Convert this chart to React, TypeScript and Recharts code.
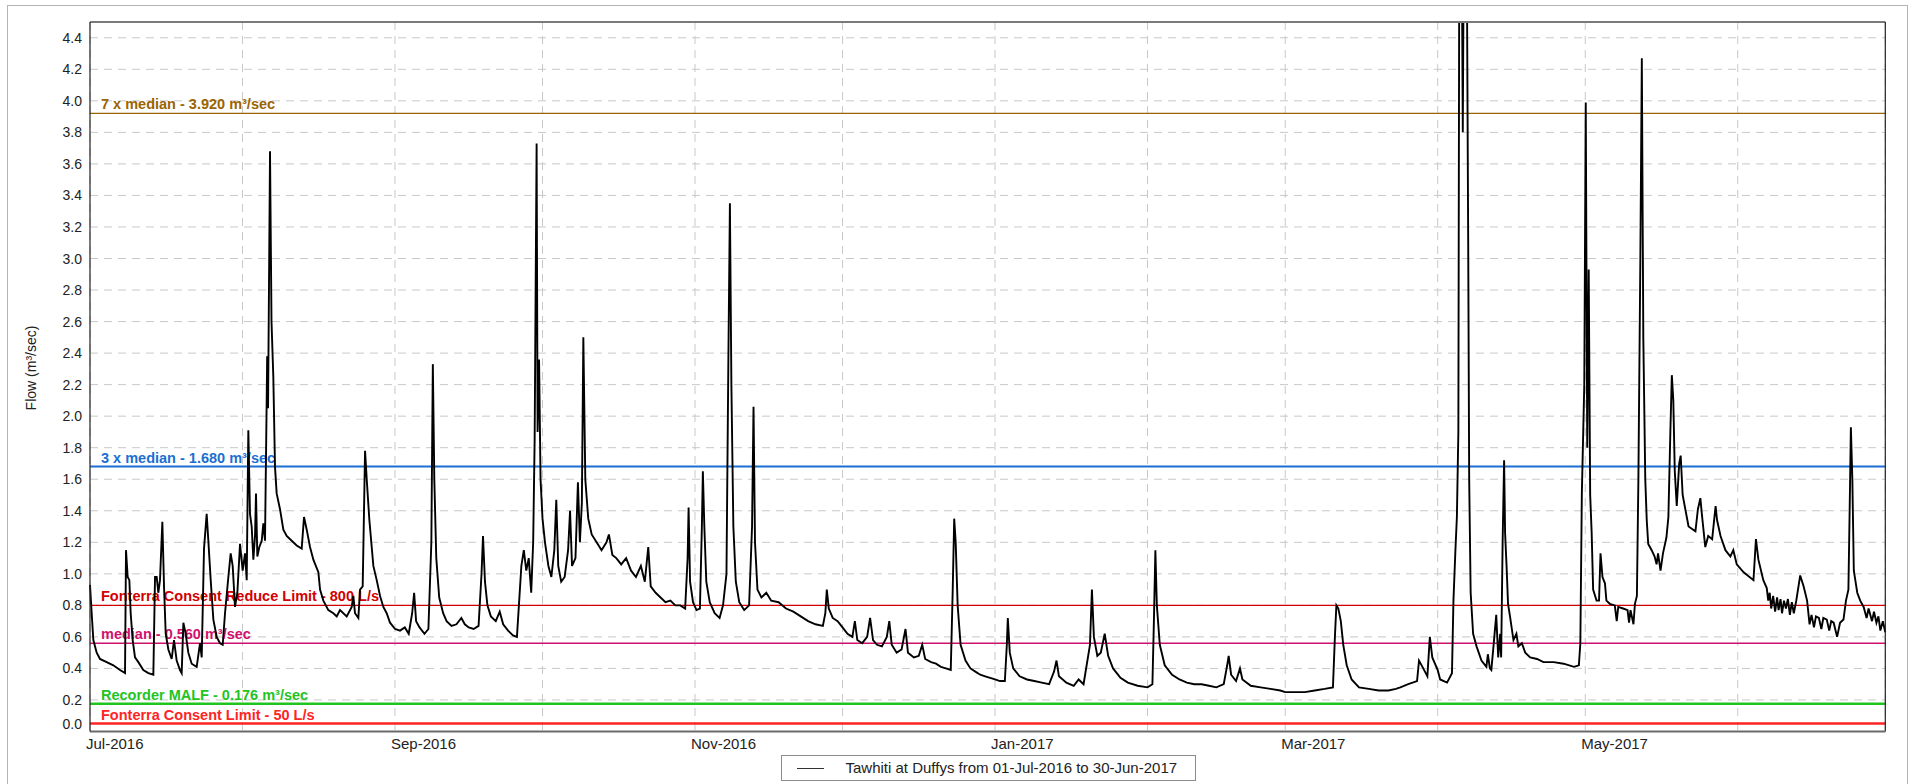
import { LineChart, Line, XAxis, YAxis, CartesianGrid, ReferenceLine, Legend } from "recharts";

// Tawhiti at Duffys flow record, [day since 01-Jul-2016, flow m³/sec]
const julFlow: [number, number][] = [
  [0, 0.93], [0.34, 0.75], [0.68, 0.58], [1.36, 0.5], [2.03, 0.46], [3.39, 0.44], [4.74, 0.42], [6.1, 0.39],
  [7.12, 0.37], [7.32, 1.15], [7.66, 0.98], [8.0, 0.96], [8.27, 0.75], [8.68, 0.58], [9.15, 0.47], [9.83, 0.44],
  [10.84, 0.39], [11.86, 0.37], [12.88, 0.36], [13.22, 0.98], [13.56, 0.98], [13.89, 0.88], [14.23, 0.96],
  [14.71, 1.33], [15.05, 0.92], [15.39, 0.62], [15.93, 0.52], [16.61, 0.46], [17.08, 0.58], [17.62, 0.45],
  [18.3, 0.39], [18.64, 0.37], [18.98, 0.69], [19.45, 0.62], [19.99, 0.5], [20.67, 0.43], [21.69, 0.41],
  [22.37, 0.56], [22.71, 0.47], [23.18, 1.16], [23.72, 1.38], [24.06, 1.21], [24.54, 0.96], [25.08, 0.71],
  [25.76, 0.6], [26.43, 0.56], [26.98, 0.55], [27.45, 0.75], [28.13, 0.98], [28.6, 1.13], [29.01, 1.05],
  [29.48, 0.79], [29.96, 0.88], [30.5, 1.19], [31.04, 1.02],
];
const augFlow: [number, number][] = [
  [31.52, 1.13], [31.86, 0.96], [32.19, 1.91], [32.53, 1.38], [32.87, 1.3], [33.21, 1.09], [33.55, 1.24],
  [33.75, 1.51], [34.02, 1.11], [34.43, 1.17], [34.91, 1.21], [35.24, 1.32], [35.58, 1.21], [35.92, 2.1],
  [36.02, 2.38], [36.2, 2.05], [36.6, 3.68], [36.9, 2.6], [37.27, 2.25], [37.61, 1.68], [37.95, 1.51],
  [38.63, 1.41], [39.31, 1.28], [39.99, 1.24], [41.01, 1.21], [42.02, 1.18], [43.04, 1.16], [43.51, 1.36],
  [44.06, 1.28], [44.73, 1.17], [45.41, 1.09], [46.43, 1.01], [46.77, 0.9], [47.44, 0.83], [48.46, 0.77],
  [49.48, 0.75], [50.16, 0.73], [50.83, 0.77], [52.19, 0.73], [53.21, 0.79], [53.54, 0.86], [53.88, 0.75],
  [54.56, 0.72], [54.9, 0.9], [55.44, 0.92], [55.92, 1.78], [56.26, 1.6], [56.8, 1.34], [57.61, 1.05],
  [58.29, 0.96], [58.97, 0.86], [59.64, 0.79], [60.32, 0.75], [61.0, 0.69],
];
const sepFlow: [number, number][] = [
  [62.02, 0.65], [63.03, 0.64], [64.0, 0.66], [64.8, 0.62], [65.5, 0.75], [65.9, 0.88], [66.3, 0.7],
  [67.0, 0.66], [68.0, 0.62], [68.8, 0.65], [69.4, 1.2], [69.7, 2.33], [70.0, 1.6], [70.4, 1.1], [71.0, 0.85],
  [71.8, 0.75], [72.5, 0.7], [73.5, 0.67], [74.5, 0.68], [75.5, 0.72], [76.2, 0.68], [77.0, 0.66],
  [78.0, 0.65], [79.0, 0.67], [79.6, 1.0], [79.9, 1.24], [80.3, 0.95], [80.8, 0.8], [81.5, 0.73],
  [82.5, 0.7], [83.3, 0.76], [84.0, 0.68], [85.0, 0.64], [86.0, 0.61], [86.8, 0.6], [87.3, 0.85],
  [87.7, 1.05], [88.2, 1.15], [88.7, 1.02], [89.2, 1.1], [89.7, 0.88], [90.1, 1.2], [90.4, 1.85],
  [90.8, 3.73], [91.0, 1.9], [91.3, 2.36], [91.6, 1.6], [92.0, 1.35],
];
const octFlow: [number, number][] = [
  [92.5, 1.2], [93.2, 1.05], [93.8, 0.98], [94.4, 1.15], [94.8, 1.47], [95.2, 1.05], [95.8, 0.95],
  [96.5, 0.98], [97.2, 1.15], [97.6, 1.4], [98.0, 1.05], [98.7, 1.1], [99.2, 1.58], [99.6, 1.2], [100.0, 1.45],
  [100.3, 2.5], [100.7, 1.6], [101.3, 1.35], [102, 1.25], [103, 1.2], [104, 1.15], [105, 1.2], [105.5, 1.25],
  [106.2, 1.12], [107, 1.1], [108, 1.06], [109, 1.1], [110, 1.02], [111, 0.98], [112, 1.05], [112.8, 0.95],
  [113.5, 1.17], [114, 0.92], [115, 0.88], [116, 0.85], [117, 0.82], [118, 0.83], [119, 0.8], [120, 0.8],
  [121, 0.78], [121.5, 1.1], [121.7, 1.42], [122, 0.95], [122.6, 0.82],
];
const novFlow: [number, number][] = [
  [123.3, 0.77], [124, 0.78], [124.4, 1.3], [124.6, 1.65], [124.9, 1.3], [125.3, 0.95], [126, 0.82],
  [127, 0.75], [128, 0.72], [128.7, 0.8], [129.4, 1.0], [129.8, 2.4], [130.1, 3.35], [130.4, 2.2],
  [130.8, 1.3], [131.3, 0.95], [132, 0.82], [133, 0.77], [134, 0.8], [134.6, 1.3], [134.9, 2.06],
  [135.2, 1.2], [135.7, 0.9], [136.5, 0.85], [137.5, 0.88], [138.5, 0.83], [140, 0.82], [141.5, 0.78],
  [143, 0.76], [144.5, 0.73], [146, 0.7], [147.5, 0.68], [149, 0.67], [149.5, 0.75], [149.8, 0.9],
  [150.2, 0.78], [151, 0.72], [152, 0.7], [153, 0.66],
];
const decFlow: [number, number][] = [
  [154, 0.62], [155, 0.6], [155.5, 0.7], [156, 0.58], [157, 0.56], [158, 0.6], [158.6, 0.72], [159.2, 0.58],
  [160, 0.55], [161, 0.54], [162, 0.6], [162.5, 0.7], [163, 0.55], [164, 0.5], [165, 0.52], [165.8, 0.65],
  [166.3, 0.5], [167.5, 0.47], [168.5, 0.48], [169.2, 0.55], [169.8, 0.46], [171, 0.44], [172, 0.43],
  [173, 0.41], [174, 0.4], [175, 0.39], [175.4, 0.9], [175.7, 1.35], [176.0, 1.2], [176.4, 0.8], [177, 0.55],
  [178, 0.45], [179, 0.4], [180, 0.38], [181, 0.36], [182, 0.35], [183, 0.34], [184, 0.33],
];
const janFlow: [number, number][] = [
  [185, 0.32], [186, 0.32], [186.4, 0.55], [186.6, 0.72], [187, 0.5], [187.7, 0.4], [189, 0.35],
  [190.5, 0.33], [192, 0.32], [193.5, 0.31], [195, 0.3], [196, 0.38], [196.5, 0.45], [197, 0.35],
  [198.5, 0.31], [200, 0.29], [201, 0.33], [202, 0.3], [203.3, 0.55], [203.7, 0.9], [204.1, 0.6],
  [204.8, 0.48], [205.5, 0.5], [206.3, 0.62], [207, 0.48], [208, 0.4], [209.5, 0.34], [211, 0.31],
  [213, 0.29], [215, 0.28],
];
const febFlow: [number, number][] = [
  [216, 0.3], [216.3, 0.7], [216.6, 1.15], [216.9, 0.8], [217.5, 0.55], [218.5, 0.42], [220, 0.36],
  [221.5, 0.33], [223, 0.31], [224.5, 0.3], [226, 0.3], [227.5, 0.29], [229, 0.28], [230.5, 0.3],
  [231.2, 0.42], [231.5, 0.48], [232, 0.36], [233, 0.32], [233.8, 0.4], [234.3, 0.33], [236, 0.29],
  [238, 0.28], [240, 0.27], [242, 0.26], [243, 0.25],
];
const marFlow: [number, number][] = [
  [245, 0.25], [247, 0.25], [249, 0.26], [251, 0.27], [252.7, 0.28], [253.1, 0.6], [253.4, 0.8],
  [253.8, 0.78], [254.3, 0.7], [254.8, 0.55], [255.5, 0.42], [256.5, 0.33], [258, 0.28], [260, 0.27],
  [262, 0.26], [264, 0.26], [265.5, 0.27], [266.4, 0.28], [268, 0.3], [269.8, 0.32], [270.2, 0.45],
  [270.9, 0.41], [271.9, 0.35], [272.4, 0.6], [272.9, 0.47], [274, 0.39],
];
const aprFlow: [number, number][] = [
  [274.5, 0.33], [275.9, 0.31], [276.9, 0.37], [277.2, 0.83], [277.6, 1.15], [277.9, 1.36], [278.2, 1.9],
  [278.4, 5.2], [278.8, 5.5], [279.1, 3.8], [279.3, 5.0], [279.9, 5.0], [280.2, 3.1], [280.4, 1.6],
  [280.7, 0.88], [281.2, 0.62], [281.9, 0.54], [282.9, 0.45], [283.9, 0.41], [284.2, 0.49], [284.6, 0.4],
  [284.9, 0.39], [285.4, 0.56], [285.9, 0.74], [286.3, 0.47], [286.7, 0.62], [286.9, 0.47], [287.2, 1.2],
  [287.5, 1.72], [287.7, 1.26], [288.0, 1.05], [288.3, 0.81], [288.7, 0.73], [289.4, 0.58], [290.0, 0.62],
  [290.4, 0.54], [291.1, 0.56], [291.8, 0.5], [292.8, 0.47], [294.2, 0.46], [295.5, 0.44], [297.6, 0.44],
  [299.6, 0.43], [301.7, 0.41], [302.7, 0.42], [303.0, 0.56], [303.3, 1.5], [303.8, 2.2],
];
const mayFlow: [number, number][] = [
  [304.1, 3.99], [304.4, 1.8], [304.7, 2.93], [305.0, 1.5], [305.3, 1.26], [305.6, 0.9], [306.3, 0.83],
  [306.8, 0.83], [307.1, 1.13], [307.5, 0.98], [308.0, 0.94], [308.3, 0.83], [309.0, 0.81], [310.0, 0.8],
  [310.4, 0.7], [310.7, 0.79], [311.7, 0.78], [312.6, 0.77], [312.9, 0.69], [313.2, 0.77], [313.8, 0.68],
  [314.1, 0.81], [314.5, 0.86], [314.8, 1.6], [315.2, 3.0], [315.5, 4.27], [315.8, 2.5], [316.2, 1.6],
  [316.5, 1.34], [316.8, 1.19], [317.5, 1.15], [318.1, 1.11], [318.5, 1.06], [318.8, 1.13], [319.3, 1.02],
  [319.8, 1.13], [320.5, 1.23], [320.9, 1.36], [321.3, 1.9], [321.6, 2.26], [321.9, 2.1], [322.2, 1.65],
  [322.6, 1.43], [323.1, 1.7], [323.4, 1.75], [323.8, 1.5], [325.0, 1.3], [326.4, 1.27], [326.9, 1.41],
  [327.4, 1.48], [327.7, 1.38], [328.4, 1.17], [329.0, 1.24], [329.8, 1.22], [330.5, 1.43], [330.8, 1.34],
  [331.5, 1.24], [332.5, 1.15], [333.5, 1.11], [334.1, 1.15], [334.8, 1.06],
];
const junFlow: [number, number][] = [
  [336.2, 1.01], [338.2, 0.96], [338.7, 1.22], [339.2, 1.09], [340.2, 0.96], [340.9, 0.91], [341.2, 0.83],
  [341.5, 0.88], [341.8, 0.78], [342.2, 0.86], [342.6, 0.76], [343, 0.85], [343.3, 0.77], [343.7, 0.84],
  [344, 0.75], [344.4, 0.83], [344.8, 0.78], [345.2, 0.84], [345.6, 0.74], [346, 0.82], [346.4, 0.75],
  [346.9, 0.83], [347.7, 0.99], [348.4, 0.92], [349.1, 0.83], [349.6, 0.68], [350, 0.74], [350.5, 0.66],
  [350.9, 0.73], [351.5, 0.72], [352, 0.65], [352.4, 0.72], [353.1, 0.71], [353.6, 0.64], [354, 0.7],
  [354.5, 0.69], [355.2, 0.6], [355.8, 0.69], [356.5, 0.71], [357.0, 0.83], [357.5, 0.9], [357.8, 1.5],
  [358.0, 1.93], [358.3, 1.6], [358.6, 1.02], [359.3, 0.88], [359.9, 0.83], [360.6, 0.79], [361.2, 0.72],
  [361.6, 0.78], [362.3, 0.7], [362.7, 0.76], [363.2, 0.69], [363.6, 0.73], [364, 0.64], [364.5, 0.7],
  [365, 0.63],
];

const flowData = [
  ...julFlow, ...augFlow, ...sepFlow, ...octFlow, ...novFlow, ...decFlow,
  ...janFlow, ...febFlow, ...marFlow, ...aprFlow, ...mayFlow, ...junFlow,
].map(([day, flow]) => ({ day, flow }));

// month starts, days since 01-Jul-2016
const monthTicks = [0, 31, 62, 92, 123, 153, 184, 215, 243, 274, 304, 335, 365];
const monthLabels: Record<number, string> = {
  0: "Jul-2016",
  62: "Sep-2016",
  123: "Nov-2016",
  184: "Jan-2017",
  243: "Mar-2017",
  304: "May-2017",
};
const flowTicks = [0, 0.2, 0.4, 0.6, 0.8, 1.0, 1.2, 1.4, 1.6, 1.8, 2.0, 2.2, 2.4, 2.6, 2.8, 3.0, 3.2, 3.4, 3.6, 3.8, 4.0, 4.2, 4.4];

const thresholdValues = [3.92, 1.68, 0.8, 0.56, 0.176, 0.05];
const thresholdLabels = [
  "7 x median - 3.920 m³/sec",
  "3 x median - 1.680 m³/sec",
  "Fonterra Consent Reduce Limit - 800 L/s",
  "median - 0.560 m³/sec",
  "Recorder MALF - 0.176 m³/sec",
  "Fonterra Consent Limit - 50 L/s",
];
const thresholdColors = ["#9a6404", "#1c6fd2", "#d20000", "#d0106e", "#1fc41f", "#ff2424"];
const thresholdWidths = [1.3, 2, 1.3, 1.5, 2.5, 2.5];

const FONT = "'Liberation Sans', Arial, sans-serif";
const legendText = "Tawhiti at Duffys from 01-Jul-2016 to 30-Jun-2017";

function MonthTick({ x, y, payload }: any) {
  const label = monthLabels[payload.value];
  if (!label) return <g />;
  return (
    <text x={x - 4} y={y + 9} fontSize={15} fill="#222" fontFamily={FONT}>
      {label}
    </text>
  );
}

function FlowTick({ x, y, payload }: any) {
  const shift = payload.value === 0 ? -8 : 0;
  return (
    <text x={x} y={y + shift + 5} textAnchor="end" fontSize={14} fill="#222" fontFamily={FONT}>
      {Number(payload.value).toFixed(1)}
    </text>
  );
}

function LegendBox() {
  return (
    <div
      style={{
        boxSizing: "border-box",
        width: 415,
        height: 26,
        border: "1px solid #8c8c8c",
        background: "#fff",
        position: "relative",
        fontFamily: FONT,
        fontSize: 15,
        color: "#222",
      }}
    >
      <div style={{ position: "absolute", left: 15, top: 12, width: 27, height: 1, background: "#333" }} />
      <div style={{ position: "absolute", left: 64, top: 3, whiteSpace: "nowrap", lineHeight: "18px" }}>{legendText}</div>
    </div>
  );
}

export default function App() {
  return (
    <div style={{ position: "absolute", left: 0, top: 0, width: 1917, height: 784, overflow: "hidden", background: "#fff" }}>
      <div
        style={{
          position: "absolute",
          left: 7,
          top: 5,
          width: 1899,
          height: 800,
          border: "1px solid #b4b4b4",
        }}
      />
      <div style={{ position: "absolute", left: 0, top: 0 }}>
        <LineChart width={1917} height={784} data={flowData} margin={{ top: 22, right: 31.7, bottom: 22.5, left: 30 }}>
          <CartesianGrid stroke="#c8c8c8" strokeDasharray="8 6" />
          <XAxis
            dataKey="day"
            type="number"
            domain={[0, 365]}
            ticks={monthTicks}
            interval={0}
            height={30}
            tick={<MonthTick />}
            tickLine={false}
            axisLine={{ stroke: "#6a6a6a", strokeWidth: 2 }}
          />
          <YAxis
            type="number"
            domain={[0, 4.5]}
            ticks={flowTicks}
            interval={0}
            allowDataOverflow
            width={60}
            tick={<FlowTick />}
            tickLine={false}
            axisLine={{ stroke: "#222", strokeWidth: 1.2 }}
            label={() => (
              <text
                x={31}
                y={368}
                transform="rotate(-90, 31, 368)"
                textAnchor="middle"
                dominantBaseline="central"
                fontSize={14}
                fill="#222"
                fontFamily={FONT}
              >
                Flow (m³/sec)
              </text>
            )}
          />
          {thresholdValues.map((v, i) => (
            <ReferenceLine
              key={thresholdLabels[i]}
              y={v}
              stroke={thresholdColors[i]}
              strokeWidth={thresholdWidths[i]}
              ifOverflow="visible"
              label={(p: any) => (
                <text
                  x={p.viewBox.x + 11}
                  y={p.viewBox.y - 4}
                  fill={thresholdColors[i]}
                  fontSize={14.5}
                  fontWeight="bold"
                  fontFamily={FONT}
                >
                  {thresholdLabels[i]}
                </text>
              )}
            />
          ))}
          <Line
            type="linear"
            dataKey="flow"
            stroke="#000"
            strokeWidth={1.9}
            dot={false}
            activeDot={false}
            isAnimationActive={false}
          />
          <ReferenceLine y={4.5} stroke="#7a7a7a" strokeWidth={2} ifOverflow="visible" />
          <ReferenceLine x={365} stroke="#222" strokeWidth={1.2} ifOverflow="visible" />
          <Legend
            layout="horizontal"
            verticalAlign="middle"
            align="center"
            wrapperStyle={{ left: 780.5, top: 755, width: 415, height: 26 }}
            content={() => <LegendBox />}
          />
        </LineChart>
      </div>
    </div>
  );
}
